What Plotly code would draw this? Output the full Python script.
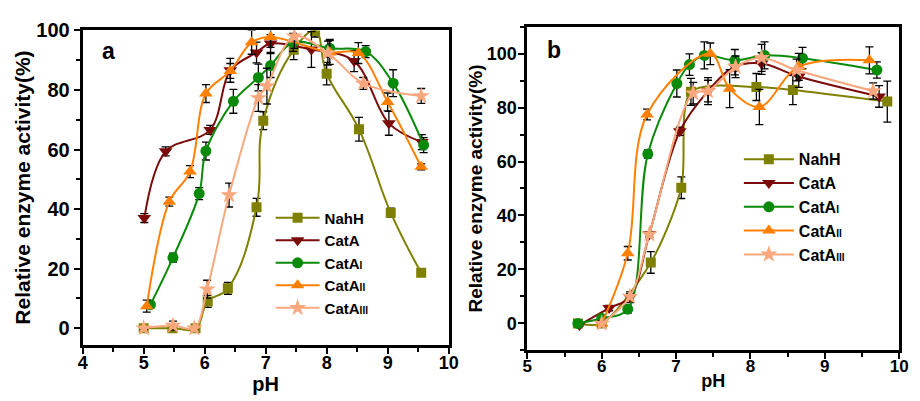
import plotly.graph_objects as go

# ---------------- panel a ----------------
a_nahh_x = [5.0, 5.47, 5.85, 6.05, 6.38, 6.85, 6.96, 7.46, 7.81, 8.0, 8.53, 9.05, 9.55]
a_nahh_y = [0, 0, 0, 9, 13.4, 40.6, 69.7, 93.5, 99.8, 85.5, 66.8, 38.8, 18.6]
a_nahh_e = [0.5, 0.5, 0.5, 2, 2, 3, 3, 3.3, 2, 3.8, 4, 1.5, 1]

a_cata_x = [5.01, 5.36, 6.09, 6.42, 6.85, 7.08, 7.75, 8.45, 9.02, 9.56]
a_cata_y = [37, 59.4, 66.6, 86.6, 92.6, 95.6, 93.6, 89.7, 68.8, 62.5]
a_cata_e = [1.5, 1.5, 1.5, 4, 3.5, 3, 6, 3.5, 4, 2.5]

a_cat1_x = [5.11, 5.48, 5.91, 6.02, 6.47, 6.88, 7.08, 7.45, 8.05, 8.64, 9.09, 9.59]
a_cat1_y = [7.9, 23.7, 45.2, 59.5, 76.2, 84.2, 88.2, 96, 94, 92.9, 82.3, 61.5]
a_cat1_e = [1, 1.5, 2, 3, 4, 4.5, 4, 3, 3, 2, 4.5, 2.5]

a_cat2_x = [5.05, 5.42, 5.76, 6.02, 6.42, 6.77, 7.08, 8.05, 8.52, 9.0, 9.55]
a_cat2_y = [7.4, 42.5, 52.6, 78.8, 86.4, 96, 97.8, 92.6, 92.4, 76, 54.2]
a_cat2_e = [2, 1.5, 2, 3, 2.5, 4, 3.5, 4, 3.5, 3, 1]

a_cat3_x = [5.0, 5.48, 5.83, 6.04, 6.4, 6.88, 7.02, 7.47, 8.02, 8.6, 9.55]
a_cat3_y = [0, 0.9, 0, 13.1, 44.7, 77.3, 81.3, 98, 92.4, 82.2, 78]
a_cat3_e = [0.5, 1.5, 0.5, 3, 4, 4.5, 6, 4, 4, 2, 2.5]

# ---------------- panel b ----------------
b_nahh_x = [5.68, 6.0, 6.66, 7.07, 7.2, 8.08, 8.57, 9.84]
b_nahh_y = [0, 0, 22.6, 50.3, 85.8, 87.6, 86.5, 82.2]
b_nahh_e = [0.5, 0.5, 4, 4, 5, 5, 5.4, 7.6]

b_cata_x = [5.7, 6.1, 6.38, 6.64, 7.05, 7.43, 7.79, 8.15, 8.65, 9.73]
b_cata_y = [-0.6, 5.7, 9.7, 33, 71.2, 86.1, 95.1, 96.3, 91.5, 84.1]
b_cata_e = [0.5, 1, 2, 1, 1.5, 5, 3, 4, 4, 4]

b_cat1_x = [5.68, 6.0, 6.35, 6.62, 7.01, 7.18, 7.38, 7.79, 8.19, 8.7, 9.7]
b_cat1_y = [0, 1.9, 5.3, 62.8, 88.9, 95.9, 99.3, 97.5, 99.3, 98.3, 93.9]
b_cat1_e = [0.5, 1, 1.5, 1.5, 5, 4, 5, 4, 5, 4, 3]

b_cat2_x = [6.0, 6.35, 6.61, 7.46, 7.72, 8.12, 8.65, 9.6]
b_cat2_y = [0, 26, 77.4, 99.9, 87, 80.2, 95.1, 97.5]
b_cat2_e = [1, 2.5, 2, 4, 7, 6.5, 5, 5]

b_cat3_x = [6.0, 6.38, 6.64, 7.23, 7.43, 7.8, 8.15, 8.62, 9.65]
b_cat3_y = [0, 10, 33, 85.3, 86.1, 95.1, 98.4, 93.9, 86.1]
b_cat3_e = [1, 1, 1, 4, 4, 4, 5, 4, 3]


def sub_name(base, numeral, px):
    # small roman numeral set right after the base name
    return f'{base}<span style="font-size:{px}px">{numeral}</span>' if numeral else base


name_parts = [("NahH", ""), ("CatA", ""), ("CatA", "I"), ("CatA", "II"), ("CatA", "III")]
colors = ["#808000", "#7B0A0A", "#0A8A0A", "#FF8000", "#F9A77C"]
symbols = ["square", "triangle-down", "circle", "triangle-up", "star"]
sizes = [10, 12, 11, 12, 13]

panel_a = [(a_nahh_x, a_nahh_y, a_nahh_e), (a_cata_x, a_cata_y, a_cata_e),
           (a_cat1_x, a_cat1_y, a_cat1_e), (a_cat2_x, a_cat2_y, a_cat2_e),
           (a_cat3_x, a_cat3_y, a_cat3_e)]
panel_b = [(b_nahh_x, b_nahh_y, b_nahh_e), (b_cata_x, b_cata_y, b_cata_e),
           (b_cat1_x, b_cat1_y, b_cat1_e), (b_cat2_x, b_cat2_y, b_cat2_e),
           (b_cat3_x, b_cat3_y, b_cat3_e)]

FONT = "Liberation Sans, Arial, sans-serif"
W, H = 920, 401

fig = go.Figure()


def add_panel(data, xa, ya, legend, subpx, smooth):
    for i, (xs, ys, es) in enumerate(data):
        fig.add_trace(go.Scatter(
            x=xs, y=ys, name=sub_name(*name_parts[i], subpx), xaxis=xa, yaxis=ya, legend=legend,
            mode="lines+markers",
            line=dict(color=colors[i], width=2, shape="spline", smoothing=smooth[i]),
            marker=dict(symbol=symbols[i], size=sizes[i], color=colors[i]),
            error_y=dict(type="data", array=es, color="black", thickness=1.3, width=4),
        ))


add_panel(panel_a, "x", "y", "legend", 10, [1.2, 1.0, 1.0, 1.0, 1.0])
add_panel(panel_b, "x2", "y2", "legend2", 10, [0.8, 1.0, 1.0, 1.0, 1.0])


def px_x(p):
    return p / W


def px_y(p):
    return 1 - p / H


axis_common = dict(showline=True, linecolor="black", linewidth=3, mirror=True,
                   ticks="outside", ticklen=6, tickwidth=2, tickcolor="black",
                   showgrid=False, zeroline=False)

fig.update_layout(
    width=W, height=H, margin=dict(l=0, r=0, t=0, b=0),
    paper_bgcolor="white", plot_bgcolor="white",
    font=dict(family=FONT, color="black"),
    xaxis=dict(domain=[px_x(79), px_x(451)], anchor="y", range=[4, 10], dtick=1,
               minor=dict(dtick=0.5, ticklen=4, tickwidth=2, ticks="outside"),
               tickfont=dict(size=18, weight="bold"), ticklabelstandoff=-6,
               title=dict(text="pH", font=dict(size=20, weight="bold"), standoff=4),
               **axis_common),
    yaxis=dict(domain=[px_y(343), px_y(20)], anchor="x", range=[-5.5, 100], tick0=0, dtick=20,
               minor=dict(dtick=10, ticklen=4, tickwidth=2, ticks="outside"),
               tickfont=dict(size=20, weight="bold"),
               title=dict(text="Relative enzyme activity(%)", font=dict(size=21, weight="bold"), standoff=0),
               **axis_common),
    xaxis2=dict(domain=[px_x(531), px_x(909)], anchor="y2", range=[5, 10], dtick=1,
                minor=dict(dtick=0.5, ticklen=4, tickwidth=2, ticks="outside"),
                tickfont=dict(size=17, weight="bold"), ticklabelstandoff=-8,
                title=dict(text="pH", font=dict(size=18, weight="bold"), standoff=0),
                **axis_common),
    yaxis2=dict(domain=[px_y(349), px_y(16)], anchor="x2", range=[-10, 110], tick0=0, dtick=20,
                minor=dict(dtick=10, ticklen=4, tickwidth=2, ticks="outside"),
                tickfont=dict(size=18, weight="bold"), ticklabelstandoff=-2,
                title=dict(text="Relative enzyme activity(%)", font=dict(size=19, weight="bold"), standoff=0),
                **axis_common),
    legend=dict(x=px_x(270), y=px_y(196), xanchor="left", yanchor="top",
                bgcolor="rgba(0,0,0,0)", font=dict(size=15, weight="bold"),
                itemwidth=44, tracegroupgap=0),
    legend2=dict(x=px_x(746), y=px_y(135), xanchor="left", yanchor="top",
                 bgcolor="rgba(0,0,0,0)", font=dict(size=16, weight="bold"),
                 itemwidth=50, tracegroupgap=0),
    showlegend=True,
    annotations=[
        dict(text="a", x=px_x(105), y=px_y(41), xref="paper", yref="paper",
             xanchor="center", yanchor="middle",
             showarrow=False, font=dict(size=23, weight="bold")),
        dict(text="b", x=px_x(558), y=px_y(40), xref="paper", yref="paper",
             xanchor="center", yanchor="middle",
             showarrow=False, font=dict(size=23, weight="bold")),
    ],
)

fig.write_html("out.html")
